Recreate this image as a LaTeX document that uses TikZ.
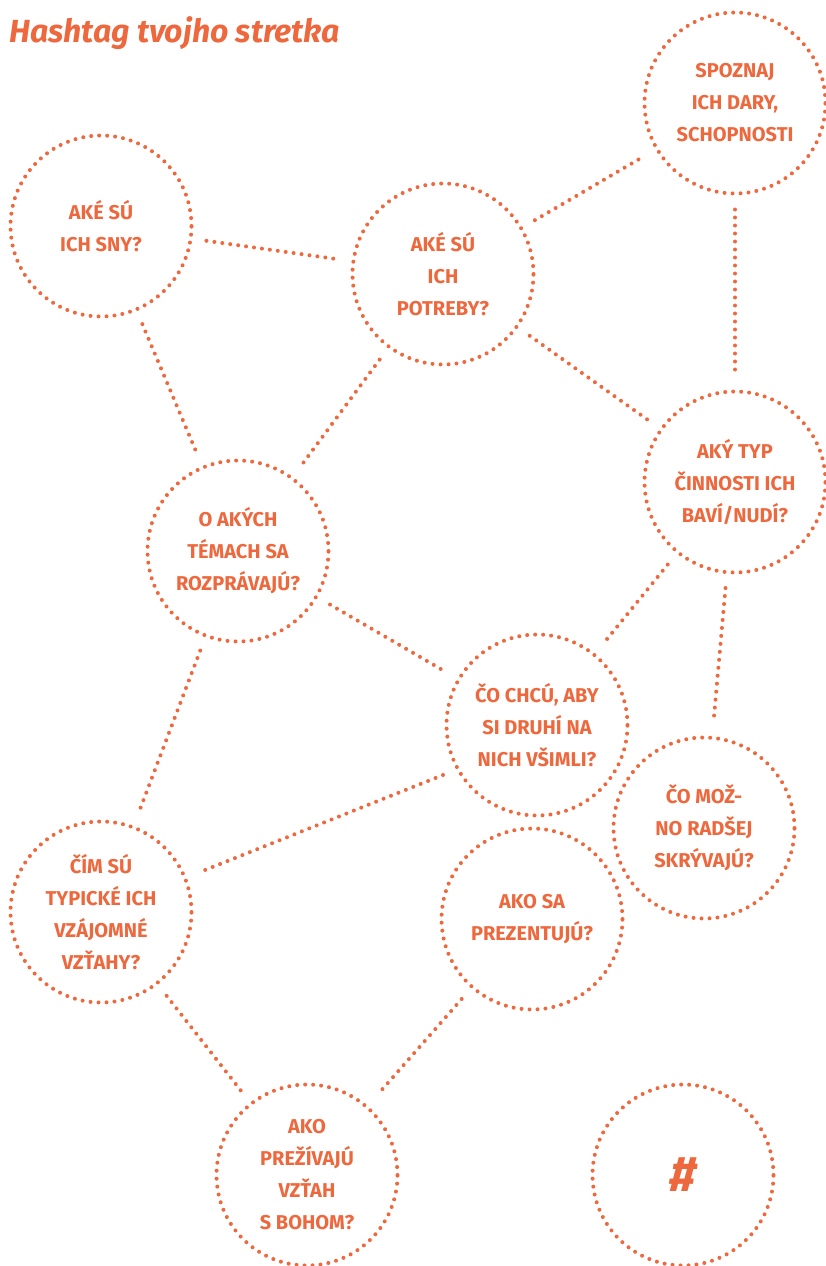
\documentclass[tikz,border=0pt]{standalone}
\usepackage{fontspec}
\setmainfont{Fira Sans}
\usepackage{tikz}
\usetikzlibrary{positioning,calc}
\definecolor{hashorange}{RGB}{238,104,62}

\begin{document}
\begin{tikzpicture}[
x=1pt, y=-1pt,
bubble/.style={circle, draw=hashorange, line width=4pt, line cap=round,
  dash pattern=on 0pt off 8pt, minimum size=181pt, inner sep=0pt,
  outer sep=16pt, align=center, text=hashorange,
  font=\bfseries\fontsize{20}{32}\selectfont},
link/.style={draw=hashorange, line width=4pt, line cap=round,
  dash pattern=on 0pt off 8pt}
]
	\useasboundingbox (0,0) rectangle (826,1266);

	\node [anchor=base west, inner sep=0pt, text=hashorange, font=\bfseries\itshape\fontsize{32}{36}\selectfont] at (9,42) (title) {Hashtag tvojho stretka};

	\node [bubble] at (735,103) (dary) {SPOZNAJ\\ICH DARY,\\SCHOPNOSTI};
	\node [bubble] at (101,226) (sny) {AKÉ SÚ\\ICH SNY?};
	\node [bubble] at (443,274) (potreby) {AKÉ SÚ\\ICH\\POTREBY?};
	\node [bubble] at (735,482) (cinnosti) {AKÝ TYP\\ČINNOSTI ICH\\BAVÍ/NUDÍ?};
	\node [bubble] at (238,551) (temy) {O AKÝCH\\TÉMACH SA\\ROZPRÁVAJÚ?};
	\node [bubble] at (537,725) (vsimli) {ČO CHCÚ, ABY\\SI DRUHÍ NA\\NICH VŠIMLI?};
	\node [bubble] at (704,828) (skryvaju) {ČO MOŽ-\\NO RADŠEJ\\SKRÝVAJÚ?};
	\node [bubble] at (101,912) (vztahy) {ČÍM SÚ\\TYPICKÉ ICH\\VZÁJOMNÉ\\VZŤAHY?};
	\node [bubble] at (532,919) (prezentuju) {AKO SA\\PREZENTUJÚ?};
	\node [bubble] at (307,1175) (boh) {AKO\\PREŽÍVAJÚ\\VZŤAH\\S BOHOM?};
	\node [bubble, font=\bfseries\itshape\fontsize{50}{50}\selectfont] at (683,1175) (hash) {\#};

	\draw [link] (sny) to (potreby);
	\draw [link] (potreby) to (dary);
	\draw [link] (dary) to (cinnosti);
	\draw [link] (potreby) to (cinnosti);
	\draw [link] (sny) to (temy);
	\draw [link] (potreby) to (temy);
	\draw [link] (temy) to (vsimli);
	\draw [link] (cinnosti) to (vsimli);
	\draw [link] (cinnosti) to (skryvaju);
	\draw [link] (temy) to (vztahy);
	\draw [link] (vsimli.208) to (vztahy.22);
	\draw [link] (vztahy) to (boh);
	\draw [link] (prezentuju) to (boh);

\end{tikzpicture}
\end{document}
